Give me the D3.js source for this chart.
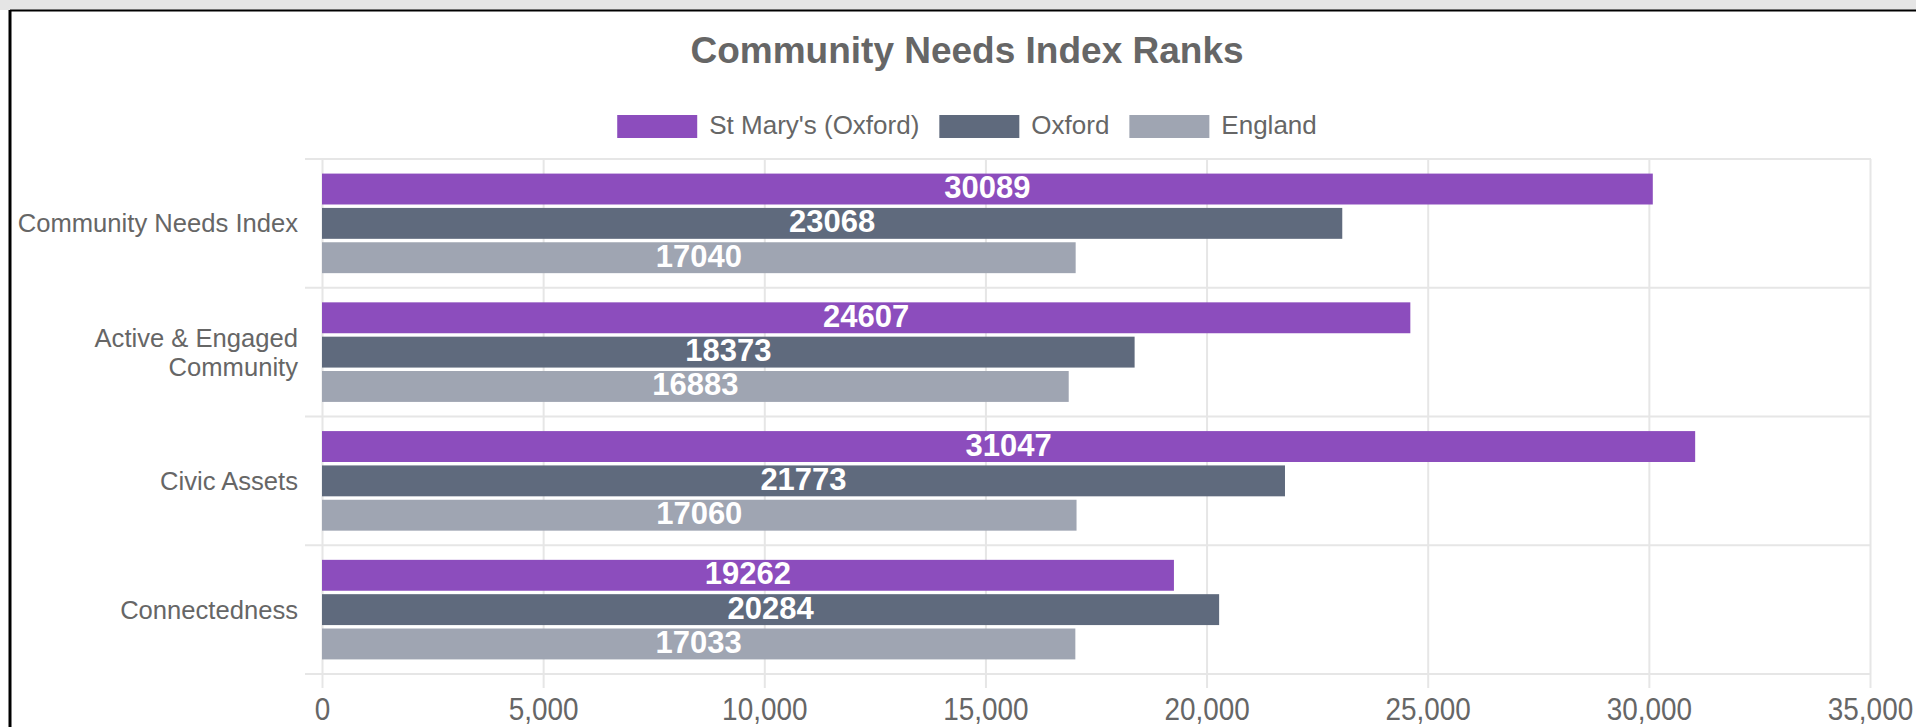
<!DOCTYPE html>
<html>
<head>
<meta charset="utf-8">
<script type="text/javascript" src="https://cdn.jsdelivr.net/npm/d3@7"></script>
<style>
    body { margin: 0; background: #fff; overflow: hidden; }
    text { font-family: "Liberation Sans", Arial, Helvetica, sans-serif; }
</style>
</head>
<body>
<div id="chart"></div>

<script type="text/javascript">
    // chart values
    var categories = [["Community Needs Index"], ["Active & Engaged", "Community"], ["Civic Assets"], ["Connectedness"]];
    var seriesNames = ["St Mary's (Oxford)", "Oxford", "England"];
    var stMarys = [30089, 24607, 31047, 19262];
    var oxford = [23068, 18373, 21773, 20284];
    var england = [17040, 16883, 17060, 17033];
    var xTicks = [0, 5000, 10000, 15000, 20000, 25000, 30000, 35000];

    var colours = ["#8c4dbd", "#5f6a7d", "#9fa5b2"];
    var textGrey = "#666";
    var gridGrey = "#e6e6e6";

    var W = 1916, H = 727;
    // note: "top" is taken by window.top, so plot edges get their own names
    var plotL = 322, plotR = 1871, plotT = 159, plotB = 674;

    var seriesValues = [stMarys, oxford, england];
    var catKeys = categories.map(function (c) { return c.join(" "); });

    var svg = d3.select("#chart").append("svg")
        .attr("width", W)
        .attr("height", H);

    // card frame: grey strip on top, black border left + top
    svg.append("rect").attr("x", 0).attr("y", 0).attr("width", W).attr("height", 10).attr("fill", "#e5e5e5");
    svg.append("line").attr("x1", 10).attr("x2", W).attr("y1", 10.5).attr("y2", 10.5)
        .attr("stroke", "#000").attr("stroke-width", 2);
    svg.append("line").attr("x1", 10).attr("x2", 10).attr("y1", 10).attr("y2", H)
        .attr("stroke", "#000").attr("stroke-width", 3);

    var x = d3.scaleLinear().domain([0, 35000]).range([plotL, plotR - 1]);

    var y0 = d3.scaleBand().domain(catKeys).range([plotT, plotB])
        .paddingInner(0.2).paddingOuter(0.1);
    var y1 = d3.scaleBand().domain(seriesNames).range([0, y0.bandwidth()])
        .paddingInner(0.1).paddingOuter(0.05);

    // vertical grid
    svg.append("g")
        .attr("transform", "translate(0," + plotB + ")")
        .call(d3.axisBottom(x).tickValues(xTicks).tickSize(-(plotB - plotT)).tickFormat(""))
        .call(function (g) {
            g.select(".domain").remove();
            g.selectAll("line").attr("stroke", gridGrey).attr("stroke-width", 2);
        });

    // horizontal grid at category edges (with little ticks past the axis)
    var step = y0.step();
    var edges = d3.range(catKeys.length + 1).map(function (i) { return plotT + i * step; });
    svg.append("g").selectAll("line").data(edges).join("line")
        .attr("x1", plotL - 17).attr("x2", plotR)
        .attr("y1", function (d) { return d; }).attr("y2", function (d) { return d; })
        .attr("stroke", gridGrey).attr("stroke-width", 2);

    // x axis ticks + labels
    svg.append("g")
        .attr("transform", "translate(0," + plotB + ")")
        .call(d3.axisBottom(x).tickValues(xTicks).tickSize(14).tickPadding(10).tickFormat(d3.format(",")))
        .call(function (g) {
            g.select(".domain").remove();
            g.selectAll("line").attr("stroke", gridGrey).attr("stroke-width", 2);
            g.selectAll("text")
                .attr("fill", textGrey)
                .attr("font-size", 31)
                .attr("transform", "scale(0.9,1)")
                .style("font-family", "'Liberation Sans', Arial, sans-serif");
        });

    // category labels
    var catLabels = svg.append("g").selectAll("text").data(categories).join("text")
        .attr("text-anchor", "end")
        .attr("fill", textGrey)
        .attr("font-size", 25.6)
        .attr("transform", function (d, i) {
            var cy = y0(catKeys[i]) + y0.bandwidth() / 2;
            return "translate(298," + (cy + 9 - (d.length - 1) * 14.5) + ")";
        });
    catLabels.selectAll("tspan").data(function (d) { return d; }).join("tspan")
        .attr("x", 0)
        .attr("dy", function (d, i) { return i === 0 ? 0 : 29; })
        .text(function (d) { return d; });

    // bars
    var groups = svg.append("g").selectAll("g").data(catKeys).join("g")
        .attr("transform", function (d) { return "translate(0," + y0(d) + ")"; });

    groups.each(function (cat, ci) {
        var g = d3.select(this);
        var rows = seriesNames.map(function (s, si) {
            return { name: s, value: seriesValues[si][ci], colour: colours[si] };
        });
        g.selectAll("rect").data(rows).join("rect")
            .attr("x", x(0))
            .attr("y", function (d) { return y1(d.name); })
            .attr("width", function (d) { return x(d.value) - x(0); })
            .attr("height", y1.bandwidth())
            .attr("fill", function (d) { return d.colour; });
        g.selectAll("text").data(rows).join("text")
            .attr("x", function (d) { return (x(0) + x(d.value)) / 2; })
            .attr("y", function (d) { return y1(d.name) + y1.bandwidth() / 2 + 9; })
            .attr("text-anchor", "middle")
            .attr("fill", "#fff")
            .attr("font-weight", "bold")
            .attr("font-size", 31)
            .text(function (d) { return d.value; });
    });

    // title
    svg.append("text")
        .attr("x", 967).attr("y", 63)
        .attr("text-anchor", "middle")
        .attr("fill", textGrey)
        .attr("font-weight", "bold")
        .attr("font-size", 37)
        .text("Community Needs Index Ranks");

    // legend, centred under the title
    var legend = svg.append("g");
    var items = legend.selectAll("g").data(seriesNames).join("g");
    items.append("rect")
        .attr("width", 80).attr("height", 23)
        .attr("y", 115)
        .attr("fill", function (d, i) { return colours[i]; });
    items.append("text")
        .attr("x", 92).attr("y", 134)
        .attr("fill", textGrey)
        .attr("font-size", 26)
        .text(function (d) { return d; });

    var widths = [];
    items.each(function () {
        widths.push(92 + d3.select(this).select("text").node().getComputedTextLength());
    });
    var total = d3.sum(widths) + 20 * (widths.length - 1);
    var cursor = 967 - total / 2;
    items.attr("transform", function (d, i) {
        var t = "translate(" + cursor + ",0)";
        cursor += widths[i] + 20;
        return t;
    });
</script>
</body>
</html>
